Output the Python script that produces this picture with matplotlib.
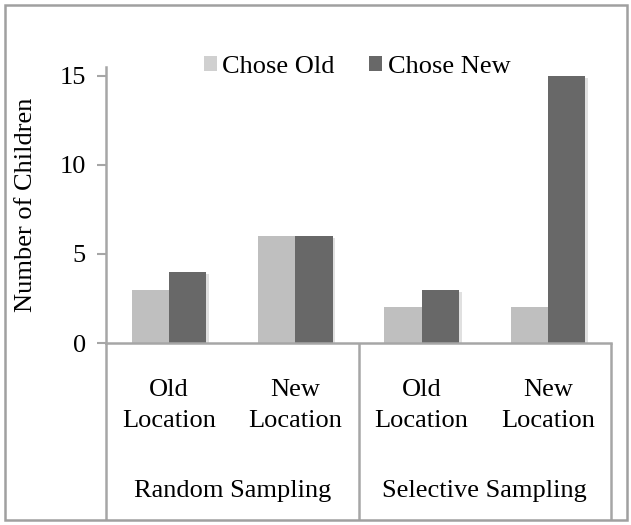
import numpy as np
import matplotlib
matplotlib.use("Agg")
import matplotlib.pyplot as plt
import matplotlib.patheffects as pe
from matplotlib.patches import Rectangle, Patch

# data
groups = ["Random Sampling", "Selective Sampling"]
categories = ["Old\nLocation", "New\nLocation", "Old\nLocation", "New\nLocation"]
chose_old = [3, 6, 2, 2]
chose_new = [4, 6, 3, 15]
series_names = ["Chose Old", "Chose New"]
yticks = [0, 5, 10, 15]

plt.rcParams['font.family'] = ['Liberation Serif', 'DejaVu Serif']

W, H = 631, 525
fig = plt.figure(figsize=(W / 100, H / 100), dpi=100)

# outer frame like the Excel chart area
fig.patches.append(Rectangle((5 / W, 5 / H), 622 / W, 515 / H, transform=fig.transFigure,
                             fill=False, edgecolor="#A0A0A0", linewidth=1.8))

ax = fig.add_axes([106 / W, 182 / H, 505 / W, 276 / H])
axis_grey = "#A6A6A6"
light, dark = "#BFBFBF", "#686868"

x = np.arange(len(categories))
bw = 0.295
shadow = [pe.SimplePatchShadow(offset=(2, -1.5), alpha=0.12, shadow_rgbFace="black"), pe.Normal()]
b1 = ax.bar(x - bw / 2, chose_old, bw, color=light)
b2 = ax.bar(x + bw / 2, chose_new, bw, color=dark)
for b in list(b1) + list(b2):
    b.set_path_effects(shadow)

ax.set_xlim(-0.5, len(categories) - 0.5)
ax.set_ylim(0, 15.5)
ax.set_yticks(yticks)
ax.tick_params(axis="y", direction="out", length=6.5, width=1.5, color=axis_grey,
               labelsize=19, pad=8)
ax.set_xticks(x)
ax.set_xticklabels(categories, fontsize=19, linespacing=1.55)
ax.tick_params(axis="x", length=0, pad=26)

for s in ["top", "right"]:
    ax.spines[s].set_visible(False)
for s in ["left", "bottom"]:
    ax.spines[s].set_color(axis_grey)
    ax.spines[s].set_linewidth(1.8)

ax.set_ylabel("Number of Children", fontsize=19, labelpad=16)

# multi-level category separators below the axis
trans = ax.get_xaxis_transform()
for xs in [-0.5, 1.5, 3.5]:
    ax.plot([xs, xs], [0, -0.641], transform=trans, color=axis_grey, lw=1.8,
            clip_on=False, solid_capstyle="butt")
for i, g in enumerate(groups):
    ax.text(2 * i + 0.5, -0.535, g, transform=trans, ha="center", va="center", fontsize=19)

handles = [Patch(facecolor="#D0D0D0"), Patch(facecolor=dark)]
fig.legend(handles=handles, labels=series_names, loc="center",
           bbox_to_anchor=(357 / W, 1 - 67 / H), ncol=2, frameon=False, fontsize=19,
           handlelength=0.5, handleheight=0.5, handletextpad=0.2, columnspacing=1.3)

fig.savefig("out.png", dpi=100)
